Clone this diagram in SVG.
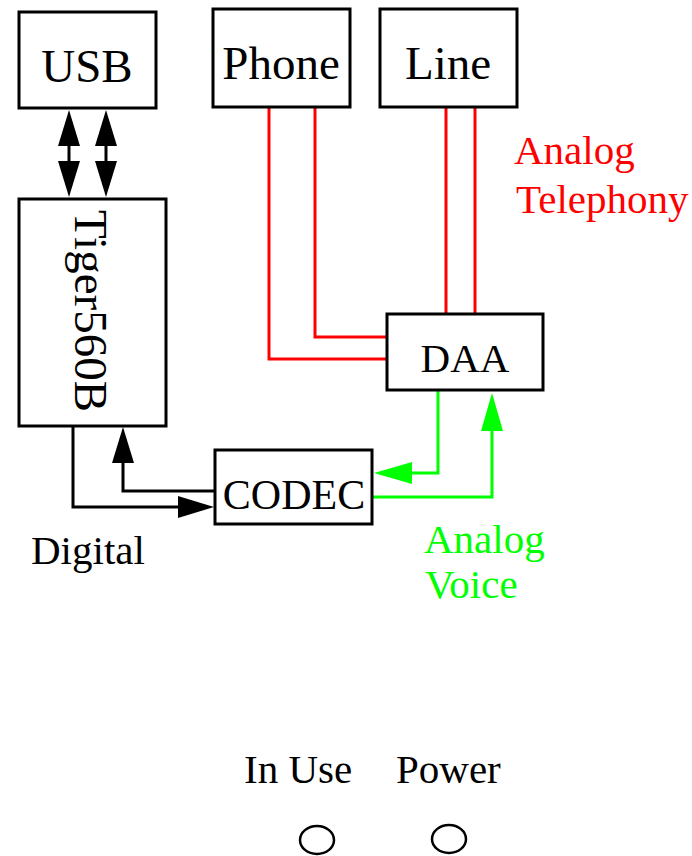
<svg xmlns="http://www.w3.org/2000/svg" width="692" height="856" viewBox="0 0 692 856">
<style>
.box{fill:#fff;stroke:#000;stroke-width:3}
.t{font-family:"Liberation Serif","Times New Roman",serif;fill:#000}
.big{font-size:47px;text-anchor:middle}
.mid{font-size:41px;text-anchor:middle}
.lab{font-size:41px}
.k{fill:none;stroke:#000;stroke-width:3}
.r{fill:none;stroke:#f00;stroke-width:3}
.g{fill:none;stroke:#0f0;stroke-width:3}
</style>
<defs>
<marker id="ak" markerUnits="userSpaceOnUse" markerWidth="36" markerHeight="22" refX="30" refY="11" orient="auto-start-reverse"><path d="M0,0 L36,11 L0,22 z" fill="#000"/></marker>
<marker id="ag" markerUnits="userSpaceOnUse" markerWidth="38" markerHeight="22" refX="32" refY="11" orient="auto-start-reverse"><path d="M0,0 L38,11 L0,22 z" fill="#0f0"/></marker>
</defs>
<g id="connectors">
<path class="r" d="M269,107 V359 H387"/>
<path class="r" d="M315,107 V337 H387"/>
<path class="r" d="M446,107 V314"/>
<path class="r" d="M475,107 V314"/>
<path class="k" d="M69,116 V191" marker-start="url(#ak)" marker-end="url(#ak)"/>
<path class="k" d="M106,116 V191" marker-start="url(#ak)" marker-end="url(#ak)"/>
<path class="k" d="M73,426 V507 H208" marker-end="url(#ak)"/>
<path class="k" d="M215,491 H123 V433" marker-end="url(#ak)"/>
<path class="g" d="M438,390 V473 H380" marker-end="url(#ag)"/>
<path class="g" d="M372,497 H492 V399" marker-end="url(#ag)"/>
</g>
<g id="usb"><rect class="box" x="19" y="12" width="137" height="96"/><text class="t big" x="87" y="82">USB</text></g>
<g id="phone"><rect class="box" x="213" y="9" width="137" height="98"/><text class="t big" x="281" y="79">Phone</text></g>
<g id="line"><rect class="box" x="380" y="9" width="137" height="98"/><text class="t big" x="448" y="79">Line</text></g>
<g id="tiger"><rect class="box" x="19" y="199" width="147" height="227"/><text class="t big" transform="translate(75,311) rotate(90)">Tiger560B</text></g>
<g id="daa"><rect class="box" x="387" y="314" width="156" height="76"/><text class="t mid" x="465" y="372">DAA</text></g>
<g id="codec"><rect class="box" x="215" y="450" width="157" height="74"/><text class="t" style="font-size:42px;text-anchor:middle" x="294" y="509">CODEC</text></g>
<g id="labels">
<text class="t lab" x="31" y="564">Digital</text>
<text class="t lab" x="514" y="164" fill="#f00" style="fill:#f00">Analog</text>
<text class="t lab" x="516" y="213" style="fill:#f00">Telephony</text>
<text class="t lab" x="424" y="553" style="fill:#0f0">Analog</text>
<text class="t lab" x="425" y="598" style="fill:#0f0">Voice</text>
<text class="t lab" x="244" y="783">In Use</text>
<text class="t lab" x="396" y="783">Power</text>
</g>
<g id="indicators">
<ellipse cx="317" cy="840" rx="17" ry="14" fill="none" stroke="#000" stroke-width="2.5"/>
<ellipse cx="449" cy="839" rx="17" ry="14" fill="none" stroke="#000" stroke-width="2.5"/>
</g>
</svg>
